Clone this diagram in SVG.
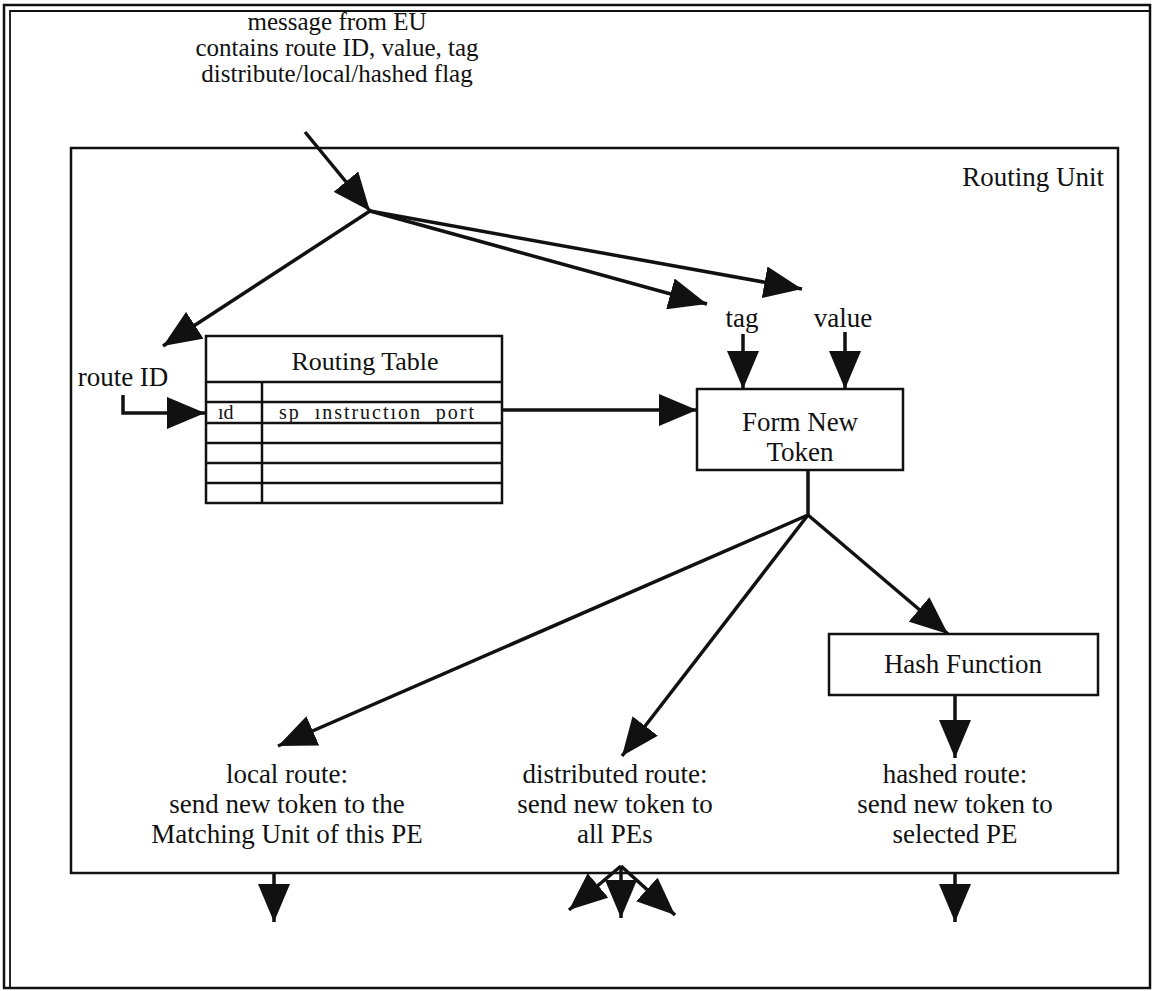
<svg xmlns="http://www.w3.org/2000/svg" width="1153" height="991" viewBox="0 0 1153 991">
<style>
text{font-family:"Liberation Serif","Times New Roman",serif;fill:#111}
.t{font-size:27px;text-anchor:middle}
.m{font-size:25px;text-anchor:middle}
.s{font-size:20px}
.box{fill:#fff;stroke:#111;stroke-width:2.5}
.ln{fill:none;stroke:#111;stroke-width:3.5}
.th{fill:none;stroke:#111;stroke-width:2.5}
</style>
<defs>
<marker id="ah" viewBox="0 0 38 32" refX="38" refY="16" markerWidth="38" markerHeight="32" markerUnits="userSpaceOnUse" orient="auto">
<path d="M0,0 L38,16 L0,32 z" fill="#111"/>
</marker>
</defs>
<rect width="1153" height="991" fill="#fff"/>
<g id="frame">
<rect x="4" y="5" width="1146" height="983" fill="none" stroke="#111" stroke-width="2.5"/>
<polyline points="10,988 10,11 1150,11" fill="none" stroke="#111" stroke-width="1.8"/>
</g>
<g id="routing-unit">
<rect x="71" y="148" width="1047" height="725" class="box"/>
<text x="1104" y="186" class="t" style="text-anchor:end">Routing Unit</text>
</g>
<g id="message">
<text x="337" y="30" class="m">message from EU</text>
<text x="337" y="56" class="m">contains route ID, value, tag</text>
<text x="337" y="82" class="m">distribute/local/hashed flag</text>
</g>
<g id="routing-table">
<rect x="206" y="336" width="296" height="167" class="box"/>
<text x="365" y="370" class="t" style="font-size:26px">Routing Table</text>
<g class="th">
<line x1="206" y1="382" x2="502" y2="382"/>
<line x1="206" y1="402" x2="502" y2="402"/>
<line x1="206" y1="423" x2="502" y2="423"/>
<line x1="206" y1="443" x2="502" y2="443"/>
<line x1="206" y1="463" x2="502" y2="463"/>
<line x1="206" y1="483" x2="502" y2="483"/>
<line x1="262" y1="382" x2="262" y2="503"/>
</g>
<text x="218" y="419" class="s">ıd</text>
<text x="279" y="419" class="s" xml:space="preserve" textLength="195">sp  ınstructıon  port</text>
</g>
<g id="route-id">
<text x="123" y="386" class="t">route ID</text>
</g>
<g id="tag-label"><text x="742" y="327" class="t">tag</text></g>
<g id="value-label"><text x="843" y="327" class="t">value</text></g>
<g id="form-new-token">
<rect x="697" y="389" width="206" height="81" class="box"/>
<text x="800" y="431" class="t">Form New</text>
<text x="800" y="461" class="t">Token</text>
</g>
<g id="hash-function">
<rect x="829" y="634" width="269" height="61" class="box"/>
<text x="963" y="673" class="t">Hash Function</text>
</g>
<g id="local-route">
<text x="287" y="783" class="t">local route:</text>
<text x="287" y="813" class="t">send new token to the</text>
<text x="287" y="843" class="t">Matching Unit of this PE</text>
</g>
<g id="distributed-route">
<text x="615" y="783" class="t">distributed route:</text>
<text x="615" y="813" class="t">send new token to</text>
<text x="615" y="843" class="t">all PEs</text>
</g>
<g id="hashed-route">
<text x="955" y="783" class="t">hashed route:</text>
<text x="955" y="813" class="t">send new token to</text>
<text x="955" y="843" class="t">selected PE</text>
</g>
<g id="connectors">
<line x1="305" y1="132" x2="370" y2="211" class="ln" marker-end="url(#ah)"/>
<line x1="370" y1="211" x2="163" y2="346" class="ln" marker-end="url(#ah)"/>
<line x1="370" y1="211" x2="707" y2="304" class="ln" marker-end="url(#ah)"/>
<line x1="370" y1="211" x2="802" y2="289" class="ln" marker-end="url(#ah)"/>
<line x1="743" y1="334" x2="743" y2="389" class="ln" marker-end="url(#ah)"/>
<line x1="845" y1="332" x2="845" y2="389" class="ln" marker-end="url(#ah)"/>
<polyline points="123,395 123,413 205,413" class="ln" marker-end="url(#ah)"/>
<line x1="502" y1="410" x2="697" y2="410" class="ln" marker-end="url(#ah)"/>
<line x1="808" y1="470" x2="808" y2="515" class="ln"/>
<line x1="808" y1="515" x2="948" y2="634" class="ln" marker-end="url(#ah)"/>
<line x1="808" y1="515" x2="278" y2="746" class="ln" marker-end="url(#ah)"/>
<line x1="808" y1="515" x2="622" y2="756" class="ln" marker-end="url(#ah)"/>
<line x1="955" y1="695" x2="955" y2="758" class="ln" marker-end="url(#ah)"/>
<line x1="274" y1="873" x2="274" y2="922" class="ln" marker-end="url(#ah)"/>
<line x1="955" y1="873" x2="955" y2="922" class="ln" marker-end="url(#ah)"/>
<line x1="621" y1="866" x2="621" y2="918" class="ln" marker-end="url(#ah)"/>
<line x1="621" y1="866" x2="569" y2="910" class="ln" marker-end="url(#ah)"/>
<line x1="621" y1="866" x2="675" y2="915" class="ln" marker-end="url(#ah)"/>
</g>
</svg>
